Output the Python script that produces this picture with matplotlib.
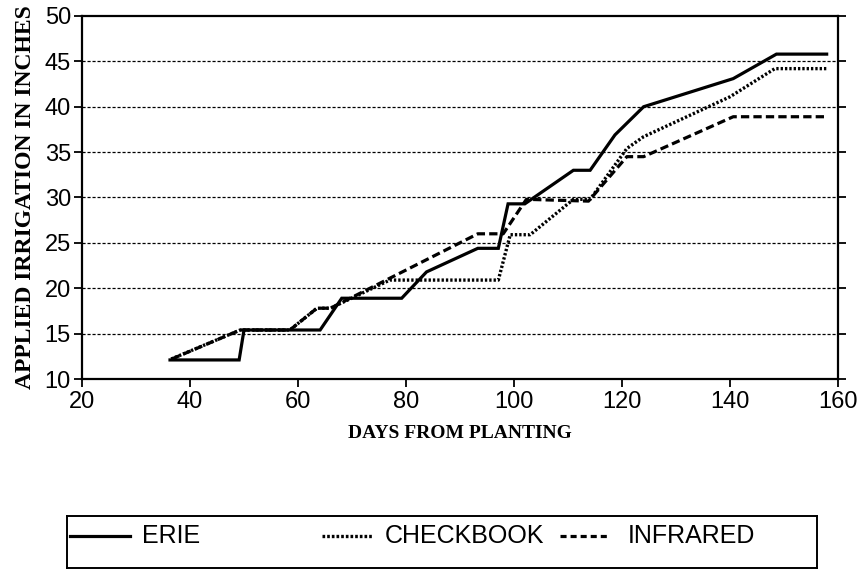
import matplotlib.pyplot as plt
from matplotlib.lines import Line2D

# Datos
erie_dias = [36.3, 49.1, 50.0, 64.1, 68.1, 79.2, 83.8, 93.3, 97.1, 98.9, 102.0,
             111.0, 114.1, 118.7, 124.0, 140.6, 148.6, 157.9]
erie_riego = [12.1, 12.1, 15.4, 15.4, 18.9, 18.9, 21.8, 24.4, 24.4, 29.3, 29.3,
              33.0, 33.0, 36.9, 40.0, 43.1, 45.8, 45.8]

check_dias = [36.5, 49.3, 58.5, 63.5, 66.0, 77.0, 97.1, 99.3, 103.0, 111.0,
              114.1, 120.9, 124.0, 140.0, 148.3, 157.9]
check_riego = [12.2, 15.4, 15.4, 17.8, 17.8, 20.9, 20.9, 25.9, 25.9, 29.8,
               29.8, 35.4, 36.7, 41.1, 44.2, 44.2]

infra_dias = [36.6, 49.3, 58.5, 63.5, 66.0, 93.3, 97.1, 98.0, 102.3, 113.8,
              120.9, 124.0, 140.6, 157.9]
infra_riego = [12.2, 15.4, 15.4, 17.8, 17.8, 26.0, 26.0, 26.0, 29.8, 29.6,
               34.5, 34.5, 38.9, 38.9]

x_ticks = [20, 40, 60, 80, 100, 120, 140, 160]
y_ticks = [10, 15, 20, 25, 30, 35, 40, 45, 50]

sans = ['Liberation Sans', 'DejaVu Sans']
serif = ['Liberation Serif', 'DejaVu Serif']

punteado = (0, (0.7, 0.6))
rayado = (0, (2.6, 1.3))

fig = plt.figure(figsize=(8.63, 5.71), dpi=100)
ax = fig.add_axes([82 / 863, 1 - 379 / 571, (838 - 82) / 863, (379 - 16) / 571])

ax.plot(erie_dias, erie_riego, color='black', lw=2.3, solid_joinstyle='miter')
ax.plot(check_dias, check_riego, color='black', lw=2.4, linestyle=punteado)
ax.plot(infra_dias, infra_riego, color='black', lw=2.3, linestyle=rayado)

ax.set_xlim(20, 160)
ax.set_ylim(10, 50)
ax.set_xticks(x_ticks)
ax.set_yticks(y_ticks)
for y in y_ticks[1:-1]:
    ax.axhline(y, color='black', lw=0.9, linestyle=(0, (2.5, 1.5)), zorder=0)

for s in ax.spines.values():
    s.set_linewidth(1.6)
ax.tick_params(axis='both', direction='out', length=6, width=1.3, pad=3)
ax.tick_params(axis='y', right=True, pad=2)
for lab in ax.get_xticklabels() + ax.get_yticklabels():
    lab.set_family(sans)
    lab.set_fontsize(17)

ax.set_xlabel('DAYS FROM PLANTING', family=serif, fontsize=14, fontweight='bold', labelpad=8)
ax.set_ylabel('APPLIED IRRIGATION IN INCHES', family=serif, fontsize=17, fontweight='bold', labelpad=2)
ax.yaxis.set_label_coords(-(82 - 36) / 756, 0.5)

# Leyenda dibujada a mano
leg = fig.add_axes([67 / 863, 3 / 571, (817 - 67) / 863, (568 - 516) / 571])
leg.set_xlim(0, 1)
leg.set_ylim(0, 1)
leg.set_xticks([])
leg.set_yticks([])
for s in leg.spines.values():
    s.set_linewidth(1.4)
leg.patch.set_alpha(0)
ly = 0.615
leg.add_line(Line2D([0.004, 0.084], [ly, ly], color='black', lw=2.3))
leg.text(0.1, ly, 'ERIE', family=sans, fontsize=18, va='center')
leg.add_line(Line2D([0.34, 0.408], [ly, ly], color='black', lw=2.4, linestyle=(0, (0.8, 0.6))))
leg.text(0.424, ly, 'CHECKBOOK', family=sans, fontsize=18, va='center')
leg.add_line(Line2D([0.657, 0.724], [ly, ly], color='black', lw=2.3, linestyle=(0, (1.9, 1.25))))
leg.text(0.747, ly, 'INFRARED', family=sans, fontsize=18, va='center')

fig.savefig('out.png', dpi=100)
